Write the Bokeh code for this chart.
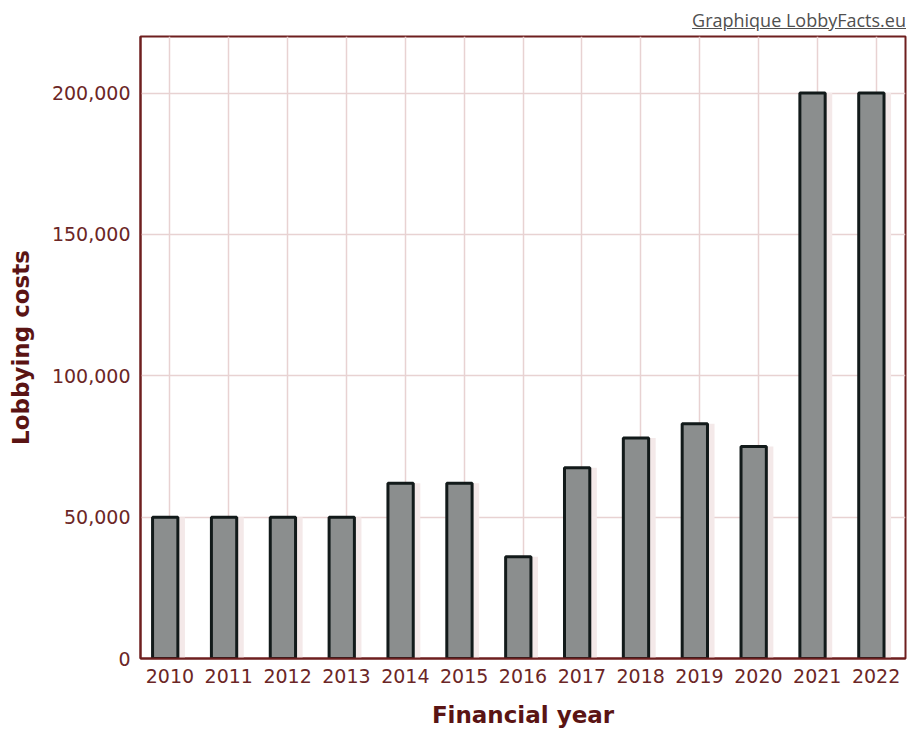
from bokeh.plotting import figure
from bokeh.models import Range1d, NumeralTickFormatter, Div, FixedTicker
from bokeh.layouts import column
from bokeh.transform import dodge
from bokeh.embed import file_html
from bokeh.resources import INLINE

years = ["2010", "2011", "2012", "2013", "2014", "2015", "2016",
         "2017", "2018", "2019", "2020", "2021", "2022"]
costs = [50000, 50000, 50000, 50000, 62000, 62000, 36000,
         67500, 78000, 83000, 75000, 200000, 200000]
y_ticks = [0, 50000, 100000, 150000, 200000]

AXIS_RED = "#6e1f1f"
LABEL_RED = "#6b2626"
TITLE_RED = "#5a1414"
GRID_PINK = "#e8d2d2"

p = figure(x_range=years, y_range=Range1d(0, 220000),
           width=908, height=698, output_backend="svg", toolbar_location=None,
           min_border_left=140, min_border_right=3, min_border_top=4,
           min_border_bottom=70)

src = dict(year=years, cost=costs)
# faint shadow
p.vbar(x=dodge("year", 0.04, range=p.x_range), top="cost", width=0.43,
       source=src, fill_color="#f4e9e9", line_color=None)
p.vbar(x=dodge("year", -0.08, range=p.x_range), top="cost", width=0.43,
       source=src, fill_color="#8b8e8e", line_color="#121a1a", line_width=3)

p.outline_line_color = AXIS_RED
p.outline_line_width = 2
p.background_fill_color = "white"
p.border_fill_color = "white"

p.xgrid.grid_line_color = GRID_PINK
p.xgrid.grid_line_width = 1.5
p.ygrid.grid_line_color = GRID_PINK
p.ygrid.grid_line_width = 1.5

p.yaxis.ticker = FixedTicker(ticks=y_ticks)
p.yaxis.formatter = NumeralTickFormatter(format="0,0")

for ax in (p.xaxis[0], p.yaxis[0]):
    ax.axis_line_color = AXIS_RED
    ax.axis_line_width = 2
    ax.major_tick_out = 0
    ax.major_tick_in = 0
    ax.minor_tick_out = 0
    ax.minor_tick_in = 0
    ax.major_label_text_font = "DejaVu Sans"
    ax.major_label_text_font_size = "19px"
    ax.major_label_text_color = LABEL_RED
    ax.axis_label_text_font = "DejaVu Sans"
    ax.axis_label_text_font_size = "23px"
    ax.axis_label_text_font_style = "bold"
    ax.axis_label_text_color = TITLE_RED

p.xaxis.axis_label = "Financial year"
p.yaxis.axis_label = "Lobbying costs"
p.xaxis.major_label_standoff = 10
p.xaxis.axis_label_standoff = 16
p.yaxis.major_label_standoff = 10
p.yaxis.axis_label_standoff = 15

header = Div(
    text='<div style="width:906px; text-align:right; font-family:\'Open Sans\'; '
         'font-size:18px; color:#505050; text-decoration:underline; '
         'line-height:20px; padding-top:10px;">Graphique LobbyFacts.eu</div>',
    width=908, height=32, margin=(0, 0, 0, 0))

layout = column(header, p, spacing=0)

open("out.html", "w").write(file_html(layout, INLINE))
